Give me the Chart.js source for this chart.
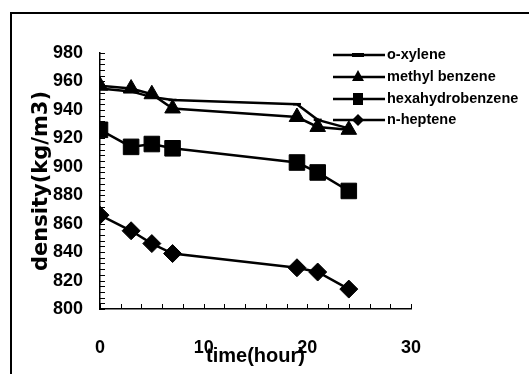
<!DOCTYPE html>
<html>
<head>
<meta charset="utf-8">
<script src="https://cdn.jsdelivr.net/npm/chart.js@4/dist/chart.umd.min.js"></script>
<style>
  html, body { margin: 0; padding: 0; background: #fff; }
  #wrap { position: relative; width: 529px; height: 374px; }
  #frame {
    position: absolute; left: 10px; top: 12px; right: 0; bottom: 0;
    border-left: 2px solid #000; border-top: 2px solid #000;
    pointer-events: none;
  }
  canvas { position: absolute; left: 0; top: 0; }
</style>
</head>
<body>
<div id="wrap">
  <canvas id="chart" width="529" height="374"></canvas>
  <div id="frame"></div>
</div>
<script>
// time (hour)
const hours = [0, 3, 5, 7, 19, 21, 24];

// density (kg/m3) per liquid
const oXylene = [955, 953, 949, 947, 944, 933, 927];
const methylBenzene = [957, 955, 951, 941, 935, 928, 926];
const hexahydrobenzene = [926, 914, 916, 913, 903, 896, 883];
const nHeptene = [866, 855, 846, 839, 829, 826, 814];

const seriesNames = ['o-xylene', 'methyl benzene', 'hexahydrobenzene', 'n-heptene'];
const seriesValues = [oXylene, methylBenzene, hexahydrobenzene, nHeptene];
const seriesMarkers = ['line', 'triangle', 'rect', 'rectRot'];
const markerRadius = [4, 9, 11, 9];

const xTicks = [0, 10, 20, 30];
const yTicks = [800, 820, 840, 860, 880, 900, 920, 940, 960, 980];

const FONT = '"Liberation Sans", Arial, sans-serif';

const datasets = seriesNames.map((name, i) => ({
  label: name,
  data: hours.map((h, j) => ({ x: h, y: seriesValues[i][j] })),
  borderColor: '#000',
  backgroundColor: '#000',
  borderWidth: 2.5,
  pointStyle: seriesMarkers[i],
  pointRadius: markerRadius[i],
  pointBorderWidth: i === 0 ? 2.5 : 1,
  showLine: true,
  fill: false,
  tension: 0,
}));

// inward minor ticks plus the legend block
const extras = {
  id: 'extras',
  afterDraw(c) {
    const { ctx, chartArea, scales } = c;
    ctx.save();
    ctx.strokeStyle = '#000';
    ctx.lineWidth = 1;
    ctx.beginPath();
    for (let v = 800; v <= 980; v += 4) {
      const y = Math.round(scales.y.getPixelForValue(v)) + 0.5;
      ctx.moveTo(chartArea.left, y);
      ctx.lineTo(chartArea.left + 5, y);
    }
    for (let v = 0; v <= 30; v += 2) {
      const x = Math.round(scales.x.getPixelForValue(v)) + 0.5;
      ctx.moveTo(x, chartArea.bottom);
      ctx.lineTo(x, chartArea.bottom - 5);
    }
    ctx.stroke();

    // legend
    const lx0 = 333, lx1 = 385, mx = 358, tx = 387;
    const rows = [55, 77, 99, 120];
    ctx.font = 'bold 14.5px ' + FONT;
    ctx.textBaseline = 'middle';
    ctx.textAlign = 'left';
    ctx.fillStyle = '#000';
    c.data.datasets.forEach((ds, i) => {
      const y = rows[i];
      ctx.lineWidth = 2.5;
      ctx.beginPath();
      ctx.moveTo(lx0, y);
      ctx.lineTo(lx1, y);
      ctx.stroke();
      ctx.beginPath();
      if (ds.pointStyle === 'line') {
        ctx.lineWidth = 4;
        ctx.moveTo(mx - 6, y);
        ctx.lineTo(mx + 6, y);
        ctx.stroke();
      } else if (ds.pointStyle === 'triangle') {
        ctx.moveTo(mx, y - 7);
        ctx.lineTo(mx + 6, y + 4);
        ctx.lineTo(mx - 6, y + 4);
        ctx.closePath();
        ctx.fill();
      } else if (ds.pointStyle === 'rect') {
        ctx.rect(mx - 5, y - 6, 10, 12);
        ctx.fill();
      } else {
        ctx.moveTo(mx, y - 6);
        ctx.lineTo(mx + 6, y);
        ctx.lineTo(mx, y + 6);
        ctx.lineTo(mx - 6, y);
        ctx.closePath();
        ctx.fill();
      }
      ctx.fillText(ds.label, tx, y);
    });
    ctx.restore();
  },
};

new Chart(document.getElementById('chart'), {
  type: 'scatter',
  data: { datasets },
  options: {
    responsive: false,
    animation: false,
    layout: { padding: { left: 0, right: 118, top: 53, bottom: 0 } },
    plugins: {
      legend: { display: false },
      tooltip: { enabled: false },
    },
    scales: {
      x: {
        type: 'linear',
        min: 0,
        max: 30,
        afterFit: (s) => { s.height = 65; },
        afterBuildTicks: (s) => { s.ticks = xTicks.map((v) => ({ value: v })); },
        ticks: {
          color: '#000',
          padding: 28,
          maxRotation: 0,
          font: { family: FONT, size: 18, weight: 'bold' },
        },
        grid: { display: true, drawOnChartArea: false, drawTicks: false },
        border: { display: true, color: '#000', width: 1.5 },
        title: {
          display: true,
          text: 'time(hour)',
          color: '#000',
          padding: { top: 0, bottom: 6 },
          font: { family: FONT, size: 20, weight: 'bold' },
        },
      },
      y: {
        type: 'linear',
        min: 800,
        max: 980,
        afterFit: (s) => { s.width = 100; },
        afterBuildTicks: (s) => { s.ticks = yTicks.map((v) => ({ value: v })); },
        ticks: {
          color: '#000',
          padding: 17,
          font: { family: FONT, size: 18, weight: 'bold' },
        },
        grid: { display: true, drawOnChartArea: false, drawTicks: false },
        border: { display: true, color: '#000', width: 1.5 },
        title: {
          display: true,
          text: 'density(kg/m3)',
          color: '#000',
          padding: { top: 29, bottom: 0 },
          font: { family: '"DejaVu Sans", sans-serif', size: 21, weight: 'bold' },
        },
      },
    },
  },
  plugins: [extras],
});
</script>
</body>
</html>
